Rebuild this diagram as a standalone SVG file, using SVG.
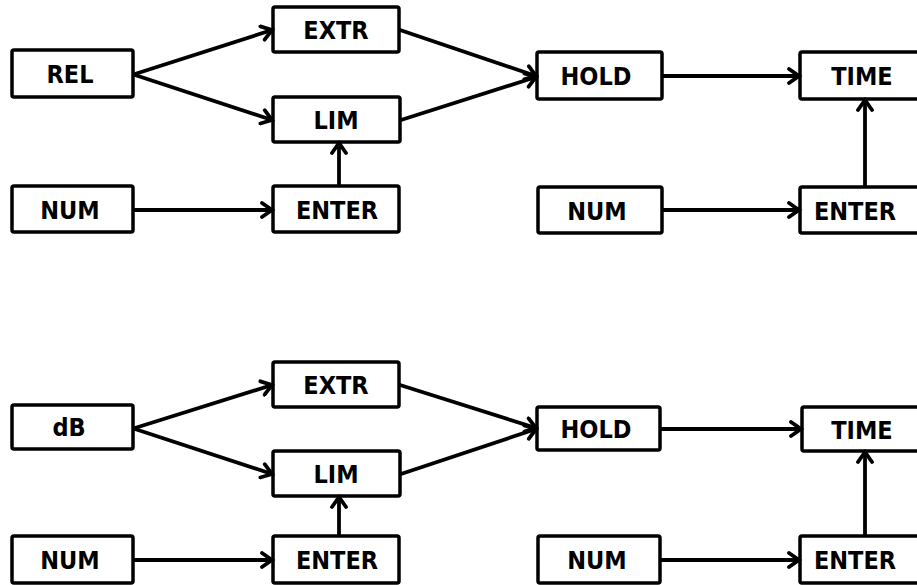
<svg xmlns="http://www.w3.org/2000/svg" width="917" height="585" viewBox="0 0 917 585">
  <style>
    .box { fill: #fff; stroke: #000; stroke-width: 3.5; }
    .lbl { font-family: "DejaVu Sans Condensed", "DejaVu Sans", "Liberation Sans", sans-serif; font-stretch: condensed; font-weight: bold; font-size: 25px; text-anchor: middle; fill: #000; }
    .wire { fill: none; stroke: #000; stroke-width: 3.8; stroke-linecap: round; }
  </style>
  <defs>
    <marker id="chev" markerUnits="userSpaceOnUse" markerWidth="18" markerHeight="18" viewBox="-13 -9 15 18" refX="0" refY="0" orient="auto">
      <path d="M-10,-7 L0,0 L-10,7" fill="none" stroke="#000" stroke-width="3.8" stroke-linejoin="miter" stroke-linecap="round"/>
    </marker>
  </defs>
  <rect width="917" height="585" fill="#fff"/>

  <!-- upper chain: REL -->
  <g id="rel"><rect class="box" x="12" y="50" width="121" height="47" rx="2"/><text class="lbl" x="70" y="83">REL</text></g>
  <g id="extr1"><rect class="box" x="273" y="7" width="126" height="45" rx="2"/><text class="lbl" x="336" y="39">EXTR</text></g>
  <g id="lim1"><rect class="box" x="273" y="97" width="127" height="45" rx="2"/><text class="lbl" x="336" y="129">LIM</text></g>
  <g id="num1"><rect class="box" x="12" y="186" width="121" height="46" rx="2"/><text class="lbl" x="70" y="219">NUM</text></g>
  <g id="enter1"><rect class="box" x="273" y="186" width="126" height="46" rx="2"/><text class="lbl" x="337" y="219">ENTER</text></g>
  <g id="hold1"><rect class="box" x="537" y="52" width="125" height="47" rx="2"/><text class="lbl" x="596" y="85">HOLD</text></g>
  <g id="time1"><rect class="box" x="800" y="52" width="130" height="47" rx="2"/><text class="lbl" x="862" y="85">TIME</text></g>
  <g id="num2"><rect class="box" x="538" y="187" width="124" height="46" rx="2"/><text class="lbl" x="597" y="220">NUM</text></g>
  <g id="enter2"><rect class="box" x="800" y="187" width="130" height="46" rx="2"/><text class="lbl" x="855" y="220">ENTER</text></g>

  <!-- lower chain: dB -->
  <g id="db"><rect class="box" x="12" y="405" width="121" height="44" rx="2"/><text class="lbl" x="69" y="436">dB</text></g>
  <g id="extr2"><rect class="box" x="273" y="362" width="126" height="45" rx="2"/><text class="lbl" x="336" y="394">EXTR</text></g>
  <g id="lim2"><rect class="box" x="273" y="451" width="127" height="45" rx="2"/><text class="lbl" x="336" y="483">LIM</text></g>
  <g id="num3"><rect class="box" x="12" y="536" width="121" height="47" rx="2"/><text class="lbl" x="70" y="569">NUM</text></g>
  <g id="enter3"><rect class="box" x="273" y="536" width="126" height="47" rx="2"/><text class="lbl" x="337" y="569">ENTER</text></g>
  <g id="hold2"><rect class="box" x="537" y="407" width="123" height="43" rx="2"/><text class="lbl" x="596" y="438">HOLD</text></g>
  <g id="time2"><rect class="box" x="802" y="407" width="130" height="44" rx="2"/><text class="lbl" x="862" y="439">TIME</text></g>
  <g id="num4"><rect class="box" x="538" y="536" width="122" height="47" rx="2"/><text class="lbl" x="597" y="569">NUM</text></g>
  <g id="enter4"><rect class="box" x="800" y="536" width="130" height="47" rx="2"/><text class="lbl" x="855" y="569">ENTER</text></g>

  <g id="connectors">
    <!-- upper -->
    <line class="wire" x1="135" y1="74" x2="272" y2="30" marker-end="url(#chev)"/>
    <line class="wire" x1="135" y1="75" x2="272" y2="120" marker-end="url(#chev)"/>
    <line class="wire" x1="400" y1="30" x2="536" y2="76" marker-end="url(#chev)"/>
    <line class="wire" x1="401" y1="120" x2="536" y2="77" marker-end="url(#chev)"/>
    <line class="wire" x1="663" y1="76" x2="799" y2="76" marker-end="url(#chev)"/>
    <line class="wire" x1="134" y1="210" x2="272" y2="210" marker-end="url(#chev)"/>
    <line class="wire" x1="339" y1="185" x2="339" y2="143" marker-end="url(#chev)"/>
    <line class="wire" x1="663" y1="210" x2="799" y2="210" marker-end="url(#chev)"/>
    <line class="wire" x1="865" y1="186" x2="865" y2="100" marker-end="url(#chev)"/>
    <!-- lower -->
    <line class="wire" x1="135" y1="428" x2="272" y2="385" marker-end="url(#chev)"/>
    <line class="wire" x1="135" y1="429" x2="272" y2="474" marker-end="url(#chev)"/>
    <line class="wire" x1="400" y1="385" x2="536" y2="428" marker-end="url(#chev)"/>
    <line class="wire" x1="401" y1="474" x2="536" y2="429" marker-end="url(#chev)"/>
    <line class="wire" x1="661" y1="429" x2="801" y2="429" marker-end="url(#chev)"/>
    <line class="wire" x1="134" y1="560" x2="272" y2="560" marker-end="url(#chev)"/>
    <line class="wire" x1="339" y1="535" x2="339" y2="497" marker-end="url(#chev)"/>
    <line class="wire" x1="661" y1="560" x2="799" y2="560" marker-end="url(#chev)"/>
    <line class="wire" x1="865" y1="535" x2="865" y2="452" marker-end="url(#chev)"/>
  </g>
</svg>
